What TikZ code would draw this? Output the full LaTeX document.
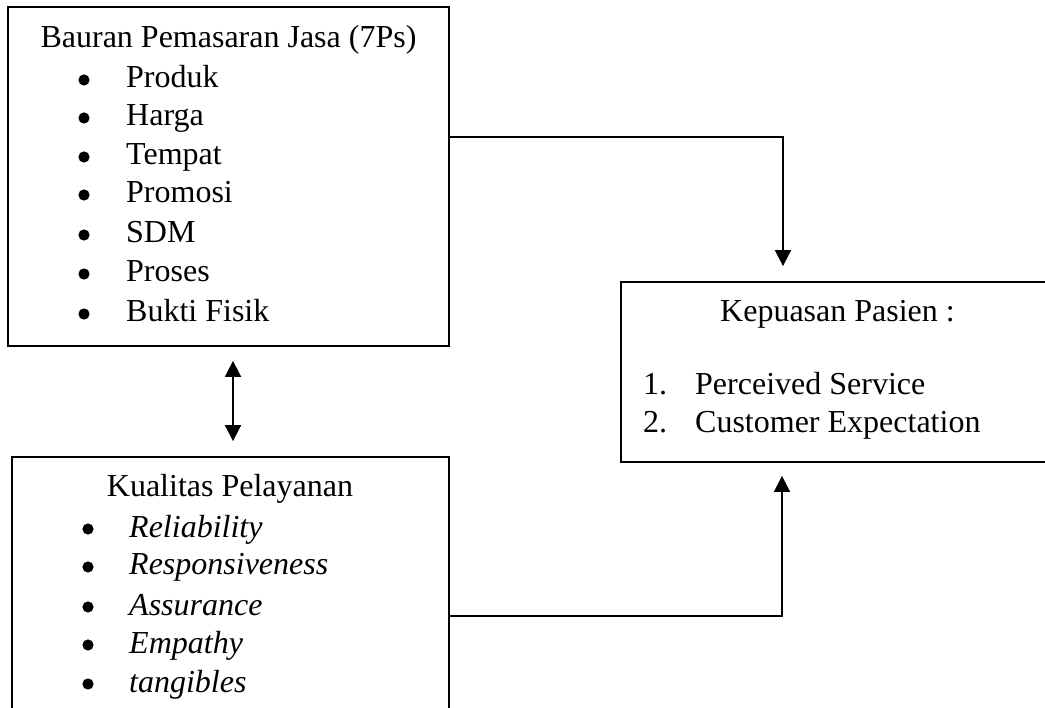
\documentclass[tikz,border=0pt]{standalone}
\usepackage{fontspec}
\setmainfont{Liberation Serif}
\usetikzlibrary{arrows.meta}
\begin{document}
\begin{tikzpicture}[x=1pt,y=-1pt,
  box/.style={draw,line width=1.8pt,rectangle,inner sep=0pt},
  txt/.style={anchor=base west,inner sep=0pt,font=\fontsize{32}{38}\selectfont},
  ttl/.style={anchor=base,inner sep=0pt,font=\fontsize{32}{38}\selectfont},
  conn/.style={line width=1.7pt,-{Triangle[length=16pt,width=16pt]}},
  dbl/.style={line width=1.7pt,{Triangle[length=16pt,width=16pt]}-{Triangle[length=16pt,width=16pt]}},
  bul/.style={fill=black}]
\useasboundingbox (0,0) rectangle (1045,708);
\clip (0,0) rectangle (1045,708);
\fill[white] (0,0) rectangle (1045,708);
% boxes
\node[box,minimum width=441pt,minimum height=339pt] (b1) at (228.5,176.5) {};
\node[box,minimum width=437pt,minimum height=303pt] (b2) at (230.5,608.5) {};
\node[box,minimum width=433pt,minimum height=180pt] (b3) at (837.5,372) {};
% box 1 text
\node[ttl] (t1) at (228.5,48) {Bauran Pemasaran Jasa (7Ps)};
\foreach \y/\t [count=\i] in {88/Produk,126/Harga,165/Tempat,203/Promosi,243/SDM,282/Proses,322/Bukti Fisik}{
  \fill[bul] (84,\y-8) circle (5.6);
  \node[txt] (p\i) at (126,\y) {\t};
}
% box 2 text
\node[ttl] (t2) at (230,497) {Kualitas Pelayanan};
\foreach \y/\t [count=\i] in {537/Reliability,575/Responsiveness,615/Assurance,653/Empathy,692/tangibles}{
  \fill[bul] (88,\y-8) circle (5.6);
  \node[txt,font=\fontsize{32}{38}\selectfont\itshape] (q\i) at (129,\y) {\t};
}
% box 3 text
\node[ttl] (t3) at (837.5,322) {Kepuasan Pasien :};
\node[txt] (n1) at (643,395) {1.};
\node[txt] (k1) at (695,395) {Perceived Service};
\node[txt] (n2) at (643,433) {2.};
\node[txt] (k2) at (695,433) {Customer Expectation};
% connectors
\coordinate (c1) at (783,137);
\coordinate (c2) at (782,616);
\draw[conn,shorten >=15pt] (b1.east |- c1) -- (c1) -- (c1 |- b3.north);
\draw[conn,shorten >=13pt] (b2.east |- c2) -- (c2) -- (c2 |- b3.south);
\coordinate (d) at (233,0);
\draw[dbl,shorten <=14pt,shorten >=15pt] (d |- b1.south) -- (d |- b2.north);
\end{tikzpicture}
\end{document}
